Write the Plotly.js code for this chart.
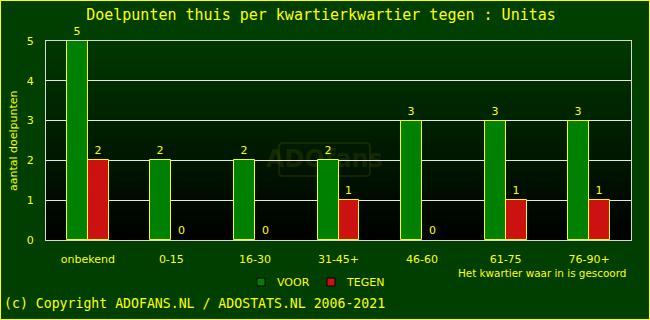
<!DOCTYPE html>
<html>
<head>
<meta charset="utf-8">
<script src="https://cdn.plot.ly/plotly-3.0.1.min.js"></script>
<style>
html,body{margin:0;padding:0;background:#003f00;}
#wrap{position:relative;width:650px;height:320px;}
#chart{width:650px;height:320px;}
#frame{position:absolute;left:0;top:0;width:650px;height:320px;box-sizing:border-box;border:1px solid #ffff00;pointer-events:none;}
</style>
</head>
<body>
<div id="wrap"><div id="chart"></div><div id="frame"></div></div>
<script>
// ---- data ----
const categories = ["onbekend", "0-15", "16-30", "31-45+", "46-60", "61-75", "76-90+"];
const voor  = [5, 2, 2, 2, 3, 3, 3];
const tegen = [2, 0, 0, 1, 0, 1, 1];
const seriesNames  = ["VOOR", "TEGEN"];
const seriesColors = ["#008000", "#cc1111"];
const yTicks = [0, 1, 2, 3, 4, 5];
const titleText = "Doelpunten thuis per kwartierkwartier tegen : Unitas";
const yTitle = "aantal doelpunten";
const xTitle = "Het kwartier waar in is gescoord";
const copyright = "(c) Copyright ADOFANS.NL / ADOSTATS.NL 2006-2021";

// ---- layout geometry ----
const W = 650, H = 320;
const L = 46, R = 19, T = 41, B = 80;
const PW = W - L - R, PH = H - T - B;
const px = x => (x - L) / PW;          // page x -> paper x
const py = y => (H - B - y) / PH;      // page y -> paper y

// background gradient + faint watermark for plot area
const cv = document.createElement('canvas');
cv.width = PW; cv.height = PH;
const ctx = cv.getContext('2d');
const g = ctx.createLinearGradient(0, 0, 0, PH);
g.addColorStop(0, '#003800');
g.addColorStop(1, '#000000');
ctx.fillStyle = g; ctx.fillRect(0, 0, PW, PH);
ctx.strokeStyle = 'rgba(110,120,0,0.18)'; ctx.lineWidth = 2;
const wx = 280 - L - 1, wy = 143 - T, ww = 91, wh = 33, rr = 4;
ctx.beginPath();
ctx.moveTo(wx + rr, wy); ctx.lineTo(wx + ww - rr, wy); ctx.quadraticCurveTo(wx + ww, wy, wx + ww, wy + rr);
ctx.lineTo(wx + ww, wy + wh - rr); ctx.quadraticCurveTo(wx + ww, wy + wh, wx + ww - rr, wy + wh);
ctx.lineTo(wx + rr, wy + wh); ctx.quadraticCurveTo(wx, wy + wh, wx, wy + wh - rr);
ctx.lineTo(wx, wy + rr); ctx.quadraticCurveTo(wx, wy, wx + rr, wy);
ctx.stroke();
ctx.fillStyle = 'rgba(110,120,0,0.18)';
ctx.font = 'bold 24px "DejaVu Sans"';
ctx.textAlign = 'center'; ctx.textBaseline = 'middle';
ctx.fillText('ADOfans', wx + ww / 2, wy + wh / 2 + 1);
const bgURL = cv.toDataURL();

const textFont = {family: 'DejaVu Sans', size: 11, color: '#ffff00'};

// bar width/offset in category units (style), gaps 0 so Plotly snaps bars to pixels
const barW = 0.25;
const barOffsets = [-barW, 0];

const traces = [voor, tegen].map((vals, i) => ({
  type: 'bar',
  name: seriesNames[i],
  x: categories,
  y: vals,
  width: barW,
  offset: barOffsets[i],
  text: vals.map(String),
  textposition: 'outside',
  textfont: textFont,
  cliponaxis: false,
  constraintext: 'none',
  marker: {color: seriesColors[i], line: {color: '#ffff00', width: vals.map(v => v === 0 ? 0 : 1)}},
  hoverinfo: 'skip',
  showlegend: false
}));

// legend (square + label) positions in page px
const legendItems = [{sq: 257, tx: 275}, {sq: 327, tx: 344}];
const legendY = 282;
const shapes = legendItems.map((it, i) => ({
  type: 'rect', xref: 'paper', yref: 'paper',
  x0: px(it.sq), x1: px(it.sq + 8), y0: py(legendY + 4), y1: py(legendY - 4),
  fillcolor: seriesColors[i], line: {color: '#000000', width: 1}
}));

const annotations = [
  ...legendItems.map((it, i) => ({
    xref: 'paper', yref: 'paper', x: px(it.tx), y: py(legendY),
    xanchor: 'left', yanchor: 'middle', text: seriesNames[i], showarrow: false,
    font: textFont
  })),
  {xref: 'paper', yref: 'paper', x: px(628), y: py(273), xanchor: 'right', yanchor: 'middle',
   text: xTitle, showarrow: false, font: {family: 'DejaVu Sans', size: 10.4, color: '#ffff00'}},
  {xref: 'paper', yref: 'paper', x: px(13), y: py(141), xanchor: 'center', yanchor: 'middle',
   text: yTitle, textangle: -90, showarrow: false, font: textFont},
  {xref: 'paper', yref: 'paper', x: px(2), y: py(303), xanchor: 'left', yanchor: 'middle',
   text: copyright, showarrow: false,
   font: {family: 'DejaVu Sans Mono', size: 13.2, color: '#ffff00'}}
];

const layout = {
  width: W, height: H,
  margin: {l: L, r: R, t: T, b: B, pad: 0},
  paper_bgcolor: '#003f00',
  plot_bgcolor: 'rgba(0,0,0,0)',
  barmode: 'overlay',
  bargap: 0,
  bargroupgap: 0,
  showlegend: false,
  title: {text: titleText, x: 321 / W, xanchor: 'center',
          y: 1 - 15 / H, yanchor: 'middle',
          font: {family: 'DejaVu Sans Mono', size: 15, color: '#ffff00'}},
  xaxis: {
    type: 'category', tickfont: textFont, showgrid: false,
    showline: true, mirror: true, linecolor: '#d8d8d8', linewidth: 1,
    ticks: '', ticklabelstandoff: 9, fixedrange: true
  },
  yaxis: {
    range: [0, 5], tickvals: yTicks, tickfont: textFont,
    showgrid: true, gridcolor: '#e6e6e6', gridwidth: 1, zeroline: false,
    showline: true, mirror: true, linecolor: '#d8d8d8', linewidth: 1,
    ticks: '', ticklabelstandoff: 9, fixedrange: true
  },
  images: [{source: bgURL, xref: 'paper', yref: 'paper', x: 0, y: 1, sizex: 1, sizey: 1,
            xanchor: 'left', yanchor: 'top', sizing: 'stretch', layer: 'below'}],
  shapes: shapes,
  annotations: annotations
};

Plotly.newPlot('chart', traces, layout, {displayModeBar: false});
</script>
</body>
</html>
